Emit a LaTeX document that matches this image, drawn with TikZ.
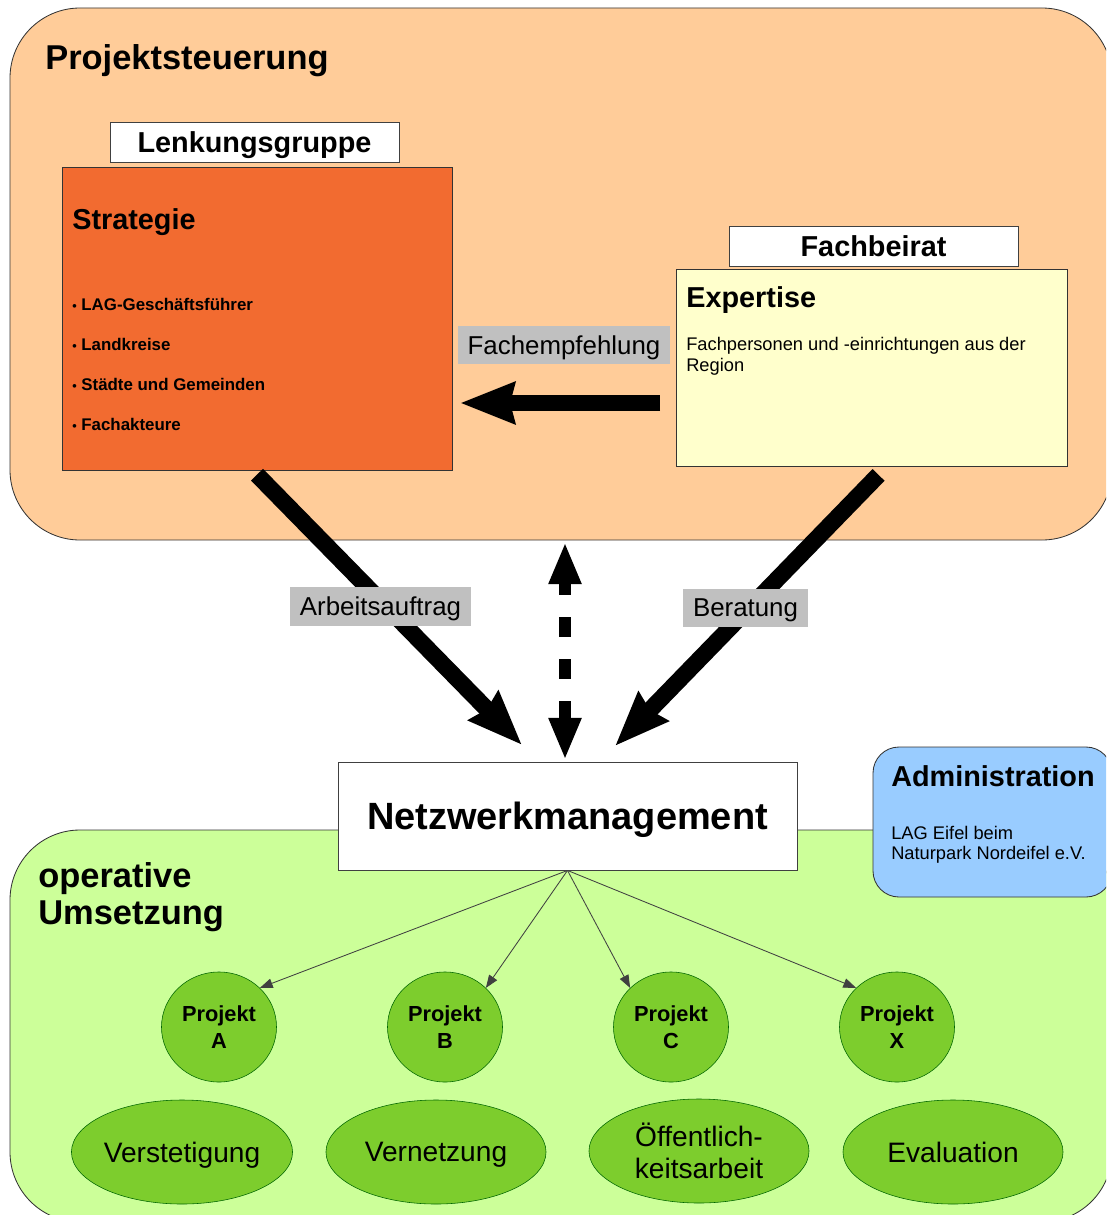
\documentclass[tikz,border=0pt]{standalone}
\usepackage{fontspec}
\setmainfont{Liberation Sans}
\usetikzlibrary{arrows.meta}
\usetikzlibrary{shapes.geometric}
\tikzset{>=latex}
\definecolor{peach}{HTML}{FFCC99}
\definecolor{stratred}{HTML}{F26B30}
\definecolor{paleyellow}{HTML}{FFFFCC}
\definecolor{limegreen}{HTML}{CCFF99}
\definecolor{projgreen}{HTML}{7DCD2D}
\definecolor{adminblue}{HTML}{99CCFF}
\definecolor{labelgray}{HTML}{C0C0C0}
\newcommand{\fsz}[2]{\fontsize{#1}{#2}\selectfont}
\tikzset{region/.style = {draw=black!80, line width=0.6pt, rounded corners=1.75cm}}
\tikzset{titlebox/.style = {draw=black!75, fill=white, minimum width=7.225cm, minimum height=1cm, inner sep=0pt, text depth=0pt, font=\fsz{20.5}{24}\bfseries}}
\tikzset{colbox/.style = {draw=black!80, line width=0.6pt, inner sep=0pt}}
\tikzset{graylabel/.style = {fill=labelgray, inner sep=0pt, minimum height=0.96cm, text depth=0pt, font=\fsz{18.4}{22}}}
\tikzset{projekt/.style = {shape=ellipse, draw=black!60!green, fill=projgreen, minimum width=2.875cm, minimum height=2.75cm, inner sep=0pt, align=center, font=\fsz{15.5}{19}\bfseries}}
\tikzset{aufgabe/.style = {shape=ellipse, draw=black!60!green, fill=projgreen, minimum width=5.5cm, minimum height=2.6cm, inner sep=0pt, align=center, font=\fsz{20}{22.7}}}
\tikzset{bigarrow/.style = {line width=0.42cm, -{Stealth[length=1.35cm, width=1cm, inset=0.1cm]}}}
\tikzset{dasharrow/.style = {line width=0.28cm, dash pattern=on 0.5cm off 0.55cm, {Triangle[length=1.05cm, width=0.75cm]}-{Triangle[length=1.05cm, width=0.75cm]}}}
\tikzset{thinarrow/.style = {draw=black!75, line width=0.6pt, -{Triangle[length=0.32cm, width=0.24cm]}}}

\begin{document}
\begin{tikzpicture}[x=0.025cm,y=-0.025cm]
                \clip (0,0) rectangle (1106,1215);
                \draw[region, fill=peach] (10,8) rectangle (1112,540);
                \draw[region, fill=limegreen] (10,830) rectangle (1112,1222);
                \node[anchor=west, inner sep=0pt, font=\fsz{24.5}{28}\bfseries] (steuer) at (45,61) {Projektsteuerung};
                \node[anchor=north west, inner sep=0pt, align=left, font=\fsz{24.5}{26.2}\bfseries] (umsetz) at (38,862) {operative\\Umsetzung};

                \node[colbox, fill=stratred, minimum width=9.75cm, minimum height=7.575cm] (strat) at (257,318.5) {};
                \node[titlebox] (lenk) at (254.5,142) {Lenkungsgruppe};
                \node[anchor=west, inner sep=0pt, font=\fsz{20.5}{24}\bfseries] (stratT) at (72,222) {Strategie};
                \node[anchor=north west, inner sep=0pt, align=left, font=\fsz{12}{28.35}\bfseries] (stratL) at (72,298) {{\fsz{9}{9}•} LAG-Geschäftsführer\\{\fsz{9}{9}•} Landkreise\\{\fsz{9}{9}•} Städte und Gemeinden\\{\fsz{9}{9}•} Fachakteure};

                \node[colbox, fill=paleyellow, minimum width=9.775cm, minimum height=4.925cm] (expert) at (871.5,367.5) {};
                \node[titlebox] (fachb) at (873.5,246) {Fachbeirat};
                \node[anchor=west, inner sep=0pt, font=\fsz{20.5}{24}\bfseries] (expT) at (686,300) {Expertise};
                \node[anchor=north west, inner sep=0pt, align=left, font=\fsz{13}{14.9}] (expL) at (686,337) {Fachpersonen und -einrichtungen aus der\\Region};

                \node[colbox, draw=black!75, fill=white, minimum width=11.475cm, minimum height=2.7cm, text depth=0pt, font=\fsz{27}{30}\bfseries] (netz) at (567.5,816) {Netzwerkmanagement};
                \draw[colbox, fill=adminblue, rounded corners=0.65cm] (873,747) rectangle (1112,897);
                \node[anchor=west, inner sep=0pt, font=\fsz{20.5}{24}\bfseries] (admin) at (891,776) {Administration};
                \node[anchor=north west, inner sep=0pt, align=left, font=\fsz{13}{14.2}] (adminL) at (891,826) {LAG Eifel beim\\Naturpark Nordeifel e.V.};

                \node[projekt] (pA) at (219,1027) {Projekt\\A};
                \node[projekt] (pB) at (445,1027) {Projekt\\B};
                \node[projekt] (pC) at (671,1027) {Projekt\\C};
                \node[projekt] (pX) at (897,1027) {Projekt\\X};

                \node[aufgabe, text depth=0pt] (verst) at (182,1152) {Verstetigung};
                \node[aufgabe, text depth=0pt] (vernetz) at (436,1152) {Vernetzung};
                \node[aufgabe] (oeff) at (699,1151) {Öffentlich-\\keitsarbeit};
                \node[aufgabe] (eval) at (953,1152) {Evaluation};

                \coordinate (fachStart) at (660,403);
                \coordinate (fachEnd) at (460,403);
                \coordinate (arbEnd) at (522,745);
                \coordinate (berEnd) at (615,746);
                \coordinate (dashTop) at (565,542);
                \coordinate (dashBot) at (565,760);

                \draw[bigarrow] (fachStart) -- (fachEnd);
                \draw[bigarrow] ([yshift=-3]strat.south) -- (arbEnd);
                \draw[bigarrow] ([xshift=5,yshift=-6]expert.south) -- (berEnd);
                \draw[dasharrow] (dashBot) -- (dashTop);

                \draw[thinarrow] (netz.south) -- (pA.north east);
                \draw[thinarrow] (netz.south) -- (pB.north east);
                \draw[thinarrow] (netz.south) -- (pC.north west);
                \draw[thinarrow] (netz.south) -- (pX.north west);

                \node[graylabel, minimum width=5.3cm] (lblFach) at (564,345) {Fachempfehlung};
                \node[graylabel, minimum width=4.525cm] (lblArb) at (380.5,606.5) {Arbeitsauftrag};
                \node[graylabel, minimum width=3.125cm] (lblBer) at (745.5,608) {Beratung};
            \end{tikzpicture}
\end{document}
